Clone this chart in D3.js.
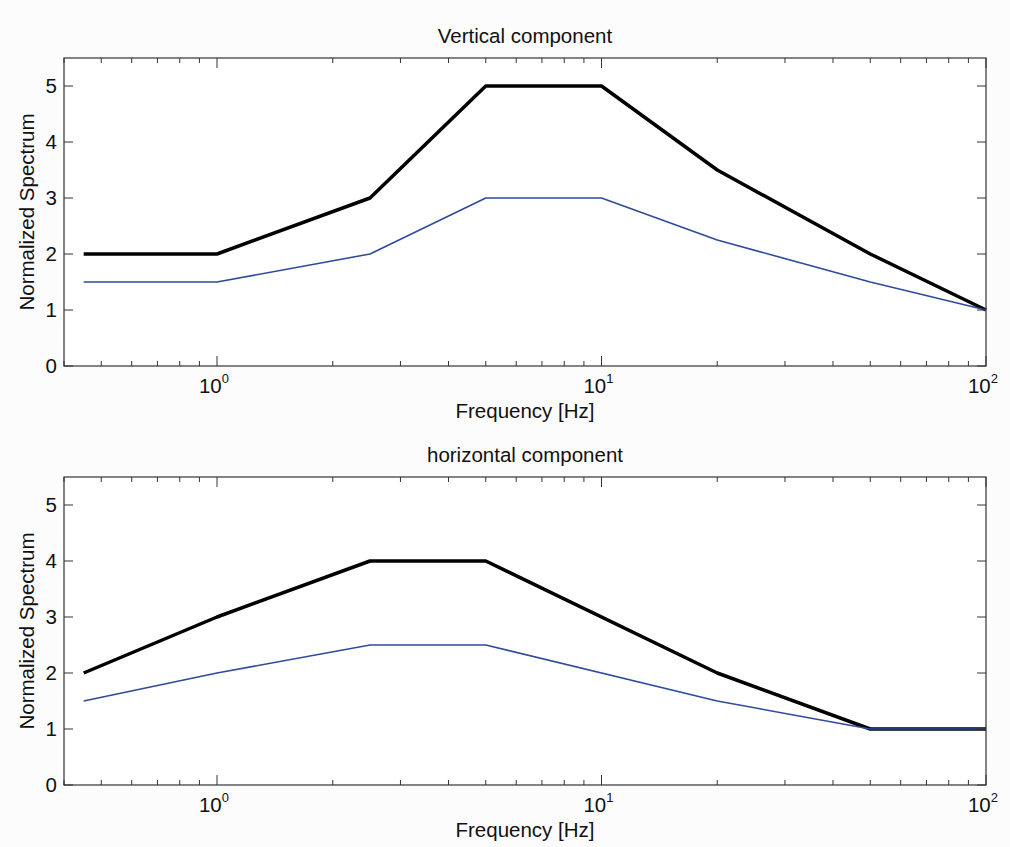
<!DOCTYPE html>
<html><head><meta charset="utf-8">
<script src="https://cdn.jsdelivr.net/npm/d3@7"></script>
<style>
body{margin:0;background:#fcfcfc;}
svg{display:block;font-family:"Liberation Sans",Arial,sans-serif;}
</style></head>
<body>
<svg id="c" width="1010" height="847"></svg>
<script>
const titles = ["Vertical component", "horizontal component"];
const freqV = [0.45, 1, 2.5, 5, 10, 20, 50, 100];
const vertBlack = [2, 2, 3, 5, 5, 3.5, 2, 1];
const vertBlue = [1.5, 1.5, 2, 3, 3, 2.25, 1.5, 1];
const freqH = [0.45, 1, 2.5, 5, 20, 50, 100];
const horBlack = [2, 3, 4, 4, 2, 1, 1];
const horBlue = [1.5, 2, 2.5, 2.5, 1.5, 1, 1];
const yTicks = [0, 1, 2, 3, 4, 5];
const xMajor = [1, 10, 100];
const xDomain = [0.4, 100];
const yDomain = [0, 5.5];

const svg = d3.select("#c");
const L = 64, R = 986;
const FS = 20.5;
const panels = [
  {top: 58, bottom: 366, title: titles[0], x: freqV, black: vertBlack, blue: vertBlue},
  {top: 477, bottom: 785, title: titles[1], x: freqH, black: horBlack, blue: horBlue}
];
const minors = [];
for (let d = 0.1; d < 100; d *= 10) for (let m = 2; m <= 9; m++) {
  const v = +(m * d).toFixed(6);
  if (v >= xDomain[0] && v <= xDomain[1]) minors.push(v);
}
panels.forEach(p => {
  const x = d3.scaleLog().domain(xDomain).range([L, R]);
  const y = d3.scaleLinear().domain(yDomain).range([p.bottom, p.top]);
  const g = svg.append("g");
  g.append("rect").attr("x", L).attr("y", p.top).attr("width", R - L).attr("height", p.bottom - p.top)
    .attr("fill", "#ffffff");
  const line = d3.line().x(d => x(d[0])).y(d => y(d[1]));
  g.append("path").datum(p.x.map((f, i) => [f, p.black[i]])).attr("d", line)
    .attr("fill", "none").attr("stroke", "#000").attr("stroke-width", 3.5).attr("stroke-linejoin", "round");
  g.append("path").datum(p.x.map((f, i) => [f, p.blue[i]])).attr("d", line)
    .attr("fill", "none").attr("stroke", "#2e4a9c").attr("stroke-width", 1.6).attr("stroke-linejoin", "round");
  const axc = "#333";
  g.append("rect").attr("x", L).attr("y", p.top).attr("width", R - L).attr("height", p.bottom - p.top)
    .attr("fill", "none").attr("stroke", axc).attr("stroke-width", 1.2);
  yTicks.forEach(t => {
    g.append("line").attr("x1", L).attr("x2", L + 9).attr("y1", y(t)).attr("y2", y(t)).attr("stroke", axc);
    g.append("line").attr("x1", R).attr("x2", R - 9).attr("y1", y(t)).attr("y2", y(t)).attr("stroke", axc);
    g.append("text").attr("x", L - 7).attr("y", y(t) + 7).attr("text-anchor", "end")
      .attr("font-size", FS).attr("fill", "#111").text(t);
  });
  xMajor.forEach(t => {
    g.append("line").attr("x1", x(t)).attr("x2", x(t)).attr("y1", p.bottom).attr("y2", p.bottom - 10).attr("stroke", axc);
    g.append("line").attr("x1", x(t)).attr("x2", x(t)).attr("y1", p.top).attr("y2", p.top + 10).attr("stroke", axc);
    const tx = g.append("text").attr("x", x(t) - 3).attr("y", p.bottom + 27).attr("text-anchor", "middle")
      .attr("font-size", FS).attr("fill", "#111");
    tx.append("tspan").text("10");
    tx.append("tspan").attr("dy", -10).attr("font-size", 13).text(Math.round(Math.log10(t)));
  });
  minors.forEach(t => {
    g.append("line").attr("x1", x(t)).attr("x2", x(t)).attr("y1", p.bottom).attr("y2", p.bottom - 5).attr("stroke", axc);
    g.append("line").attr("x1", x(t)).attr("x2", x(t)).attr("y1", p.top).attr("y2", p.top + 5).attr("stroke", axc);
  });
  g.append("text").attr("x", 525).attr("y", p.top - 15).attr("text-anchor", "middle")
    .attr("font-size", FS).attr("fill", "#111").text(p.title);
  g.append("text").attr("x", 525).attr("y", p.bottom + 52).attr("text-anchor", "middle")
    .attr("font-size", FS).attr("fill", "#111").text("Frequency [Hz]");
  g.append("text").attr("transform", `translate(34,${(p.top + p.bottom) / 2}) rotate(-90)`)
    .attr("text-anchor", "middle").attr("font-size", FS).attr("fill", "#111").text("Normalized Spectrum");
});
</script>
</body></html>
